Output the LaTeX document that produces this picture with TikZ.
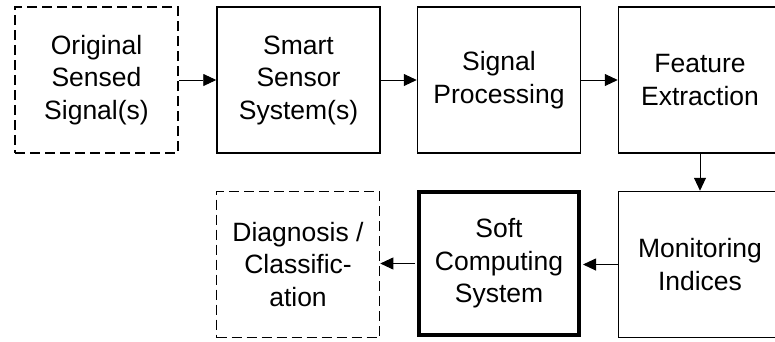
\documentclass[tikz,border=0pt]{standalone}
\usepackage{fontspec}
\setmainfont{Liberation Sans}
\usetikzlibrary{arrows.meta}
\begin{document}
\begin{tikzpicture}[x=1pt,y=-1pt,
  box/.style={draw, line width=1.5pt, minimum width=163pt, minimum height=146pt,
    align=center, inner sep=0pt, font=\fontsize{26.5}{32.5}\selectfont},
  dbox/.style={box, line width=1.6pt, dash pattern=on 10pt off 5pt},
  tbox/.style={box, line width=4pt, minimum width=160pt, minimum height=143pt},
  arr/.style={-{Triangle[length=13pt,width=12pt]}, line width=0.9pt}]
\useasboundingbox (0,0) rectangle (775,341);
\clip (0,0) rectangle (775,341);
\node[dbox] (orig) at (96.5,80) {Original\\Sensed\\Signal(s)};
\node[box] (smart) at (298.5,80) {Smart\\Sensor\\System(s)};
\node[box] (sigp) at (499,80) {Signal\\Processing};
\node[box] (feat) at (700,80) {Feature\\Extraction};
\node[box] (mon) at (700,264.5) {Monitoring\\Indices};
\node[tbox] (soft) at (499,263.5) {Soft\\Computing\\System};
\node[dbox] (diag) at (298,264.5) {Diagnosis /\\Classific-\\ation};
\draw[arr] (orig) -- (smart);
\draw[arr] (smart) -- (sigp);
\draw[arr] (sigp) -- (feat);
\draw[arr] (feat) -- (mon);
\draw[arr, shorten >=2pt] (mon.west) -- (mon.west -| soft.east);
\draw[arr, shorten <=2pt] (soft.west) -- (soft.west -| diag.east);
\end{tikzpicture}
\end{document}
